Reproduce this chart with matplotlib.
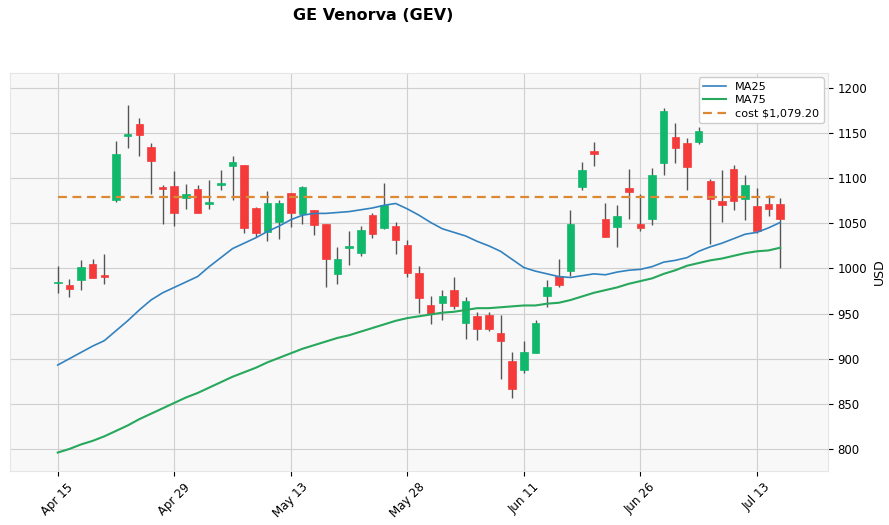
import matplotlib.pyplot as plt
import numpy as np

# daily candles, Apr 15 .. Jul 16 (63 trading days)
opens = [984, 982, 987, 1005, 993, 1076, 1147, 1160, 1135, 1090,
         1091, 1078, 1088, 1071, 1092, 1113, 1115, 1067, 1040, 1052,
         1084, 1060, 1065, 1049, 994, 1023, 1017, 1059, 1045, 1047,
         1026, 995, 960, 962, 976, 940, 947, 948, 928, 897,
         888, 906, 969, 992, 997, 1090, 1130, 1055, 1046, 1089,
         1049, 1055, 1117, 1146, 1139, 1140, 1097, 1075, 1110, 1077,
         1069, 1071, 1071]
closes = [985, 977, 1002, 989, 990, 1127, 1149, 1148, 1119, 1088,
          1062, 1083, 1062, 1074, 1095, 1118, 1045, 1039, 1073, 1072,
          1061, 1090, 1048, 1011, 1011, 1025, 1043, 1038, 1070, 1031,
          995, 967, 949, 969, 958, 964, 933, 933, 920, 866,
          907, 940, 979, 982, 1049, 1109, 1127, 1035, 1058, 1085,
          1045, 1103, 1175, 1134, 1112, 1152, 1077, 1070, 1075, 1092,
          1042, 1066, 1055]
highs = [1003, 988, 1009, 1010, 1016, 1141, 1181, 1167, 1139, 1092,
         1108, 1094, 1093, 1098, 1109, 1125, 1115, 1068, 1086, 1076,
         1084, 1091, 1065, 1049, 1024, 1041, 1047, 1061, 1095, 1052,
         1031, 1003, 969, 976, 990, 968, 952, 952, 948, 907,
         920, 943, 987, 1010, 1065, 1118, 1140, 1072, 1070, 1110,
         1083, 1111, 1178, 1161, 1144, 1157, 1099, 1109, 1115, 1103,
         1089, 1081, 1078]
lows = [973, 968, 976, 989, 983, 1074, 1133, 1125, 1083, 1049,
        1047, 1066, 1062, 1066, 1087, 1076, 1039, 1035, 1030, 1033,
        1046, 1049, 1037, 980, 983, 1004, 1014, 1034, 1044, 1016,
        990, 951, 939, 943, 955, 922, 921, 931, 877, 856,
        884, 906, 957, 980, 992, 1087, 1113, 1035, 1024, 1055,
        1041, 1048, 1104, 1117, 1087, 1138, 1027, 1051, 1065, 1054,
        1039, 1058, 1000]

ma25 = [893, 900, 907, 914, 920, 931, 942, 954, 965, 973,
        979, 985, 991, 1002, 1012, 1022, 1028, 1034, 1041, 1047,
        1054, 1059, 1061, 1061, 1062, 1063, 1065, 1067, 1070, 1072,
        1066, 1059, 1051, 1044, 1040, 1036, 1030, 1025, 1019, 1010,
        1001, 997, 994, 991, 990, 992, 994, 993, 996, 998,
        999, 1002, 1007, 1009, 1012, 1019, 1024, 1028, 1033, 1038,
        1040, 1045, 1051]
ma75 = [796, 800, 805, 809, 814, 820, 826, 833, 839, 845,
        851, 857, 862, 868, 874, 880, 885, 890, 896, 901,
        906, 911, 915, 919, 923, 926, 930, 934, 938, 942,
        945, 947, 949, 951, 952, 954, 956, 956, 957, 958,
        959, 959, 961, 962, 965, 969, 973, 976, 979, 983,
        986, 989, 994, 998, 1003, 1006, 1009, 1011, 1014, 1017,
        1019, 1020, 1023]

cost = 1079.20
tick_labels = ['Apr 15', 'Apr 29', 'May 13', 'May 28', 'Jun 11', 'Jun 26', 'Jul 13']

up_color = '#10b86c'
down_color = '#f53a3a'

x = np.arange(len(opens))
o = np.array(opens, dtype=float)
c = np.array(closes, dtype=float)
colors = [up_color if cc >= oo else down_color for oo, cc in zip(o, c)]

fig = plt.figure(figsize=(8.89, 5.25), dpi=100)
ax = fig.add_axes([0.0112, 0.1029, 0.9202, 0.7581])
ax.set_facecolor('#f8f8f8')

# wicks then bodies
ax.vlines(x, lows, highs, color='#555555', linewidth=1, zorder=2)
body = c - o
body = np.where(np.abs(body) < 1.5, np.sign(body + 1e-9) * 1.5, body)
ax.bar(x, body, bottom=o, width=0.65, color=colors, edgecolor=colors,
       linewidth=0.5, zorder=3)

ax.plot(x, ma25, color='#3382c0', linewidth=1.2, label='MA25', zorder=4)
ax.plot(x, ma75, color='#27a85c', linewidth=1.5, label='MA75', zorder=4)
ax.plot(x, [cost] * len(x), color='#dd8833', linewidth=1.6, linestyle='--',
        dashes=(4, 2.5), label=f'cost ${cost:,.2f}', zorder=4)

ax.set_xlim(-4.1, 66.1)
ax.set_ylim(775.6, 1216.6)
ax.set_xticks(range(0, len(x), 10))
ax.set_xticklabels(tick_labels, rotation=45, fontsize=8.5)
ax.set_yticks(range(800, 1201, 50))
ax.yaxis.tick_right()
ax.yaxis.set_label_position('right')
ax.set_ylabel('USD', fontsize=9)
ax.tick_params(axis='y', labelsize=8.5)
ax.grid(True, color='#d0d0d0', linewidth=0.8)
ax.set_axisbelow(True)
for s in ax.spines.values():
    s.set_color('#e6e6e6')

ax.legend(loc='upper right', fontsize=8.1, framealpha=1, edgecolor='#cccccc',
          fancybox=True, labelspacing=0.3, borderpad=0.4, borderaxespad=0.4)

fig.text(0.42, 0.97, 'GE Venorva (GEV)', ha='center', va='center',
         fontsize=11.5, fontweight='bold')

plt.savefig('out.png', dpi=100)
